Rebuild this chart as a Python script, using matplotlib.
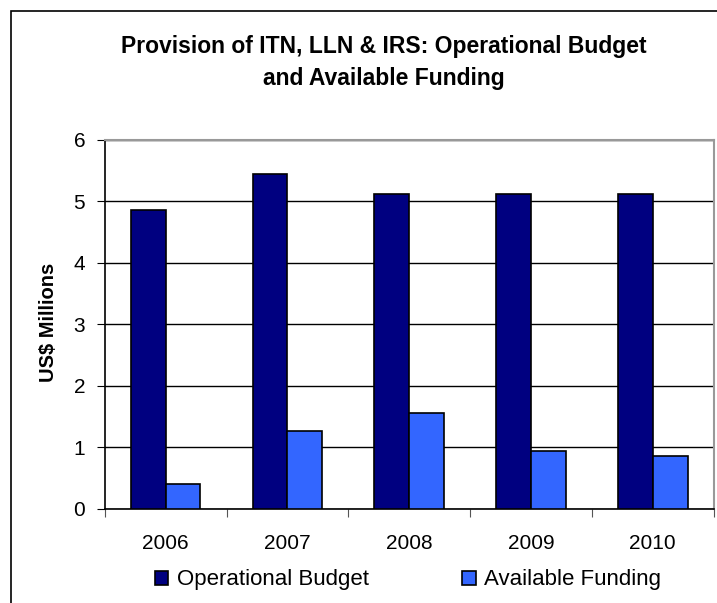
import matplotlib
matplotlib.use("Agg")
import matplotlib.pyplot as plt
import numpy as np
from matplotlib.patches import Rectangle

plt.rcParams['font.family'] = ['Liberation Sans', 'DejaVu Sans']

years = ['2006', '2007', '2008', '2009', '2010']
operational_budget = [4.86, 5.45, 5.12, 5.12, 5.12]
available_funding = [0.40, 1.26, 1.56, 0.94, 0.85]

W, H = 717, 603
fig = plt.figure(figsize=(W / 100, H / 100), dpi=100)

# chart frame, only top/left edges fall inside the image
fig.patches.append(Rectangle((11 / W, -0.1), 1.2, 1.1 - 11 / H,
                             transform=fig.transFigure, fill=False,
                             edgecolor='black', linewidth=1.2))

ax = fig.add_axes([104.7 / W, (H - 508.7) / H, 609 / W, 368.7 / H])

x = np.arange(len(years))
bw = 1 / 3.5
ax.bar(x - bw / 2, operational_budget, bw, color='#000080',
       edgecolor='black', linewidth=1.2, label='Operational Budget', zorder=3)
ax.bar(x + bw / 2, available_funding, bw, color='#3366FF',
       edgecolor='black', linewidth=1.2, label='Available Funding', zorder=3)

ax.set_xlim(-0.5, len(years) - 0.5)
ax.set_ylim(0, 6)
ax.set_yticks(range(0, 7))
ax.yaxis.grid(True, color='black', linewidth=1.0, zorder=0)

# category boundary ticks on the x axis, labels centred
ax.set_xticks(np.arange(-0.5, len(years) + 0.5, 1))
ax.set_xticklabels([])
ax.set_xticks(x, minor=True)
ax.set_xticklabels(years, minor=True, fontsize=15)
ax.tick_params(axis='x', which='minor', length=0, pad=18)
ax.tick_params(axis='x', which='major', length=6, direction='out', color='#555555')
ax.tick_params(axis='y', length=6, direction='out', labelsize=15, pad=8)

for side in ['top', 'right']:
    ax.spines[side].set_color('#999999')
    ax.spines[side].set_linewidth(1.5)
ax.spines['left'].set_linewidth(1.2)
ax.spines['bottom'].set_linewidth(1.2)

fig.text(49 / W, 1 - 322 / H, 'US$ Millions', rotation=90, ha='center',
         va='center', fontsize=14.5, fontweight='bold')

fig.text(384 / W, 1 - 62 / H,
         'Provision of ITN, LLN & IRS: Operational Budget\nand Available Funding',
         ha='center', va='center', fontsize=16.5, fontweight='bold',
         linespacing=1.5)

fig.legend(loc='center', bbox_to_anchor=(408 / W, 1 - 580 / H), ncol=2,
           frameon=False, fontsize=16, handlelength=0.6, handleheight=0.6,
           handletextpad=0.4, columnspacing=4.2, borderpad=0)

fig.savefig('out.png', dpi=100)
